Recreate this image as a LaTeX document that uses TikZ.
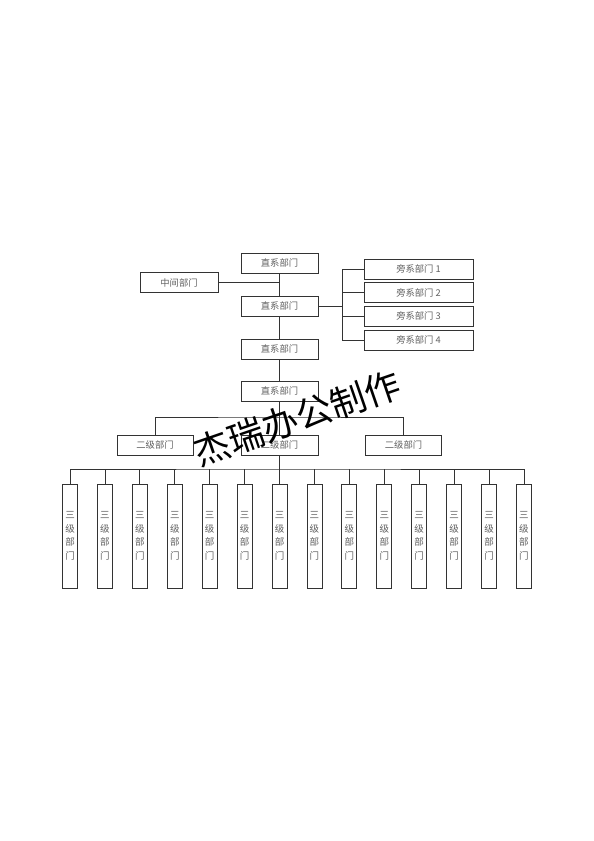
\documentclass[tikz,border=0pt]{standalone}
\usepackage{fontspec}
\newfontfamily\cjk{Noto Sans CJK SC}
\begin{document}
\begin{tikzpicture}[x=1pt,y=-1pt,
  box/.style={draw=black!80, line width=0.8pt, minimum width=77pt, minimum height=20pt, inner sep=0pt,
    font=\cjk\fontsize{9.3}{10}\selectfont, text=black!62},
  sidebox/.style={box, minimum width=109pt},
  secbox/.style={box, minimum width=76pt},
  thirdbox/.style={draw=black!80, line width=0.8pt, minimum width=15pt, minimum height=104pt, inner sep=0pt,
    align=center, font=\cjk\fontsize{9.5}{13.5}\selectfont, text=black!62},
  link/.style={draw=black!80, line width=0.8pt},
  wmark/.style={font=\cjk\fontsize{36}{40}\selectfont, text=black, rotate=19}]
\useasboundingbox (0,0) rectangle (594,841);
\fill[white] (0,0) rectangle (594,841);
% main column
\node[box] (d1) at (279.5,263) {直系部门};
\node[box, minimum width=78pt] (m) at (179,282.5) {中间部门};
\node[box] (d2) at (279.5,306) {直系部门};
\node[box] (d3) at (279.5,349) {直系部门};
\node[box] (d4) at (279.5,391) {直系部门};
% side boxes
\node[sidebox] (p1) at (418.5,269) {旁系部门 1};
\node[sidebox] (p2) at (418.5,292.5) {旁系部门 2};
\node[sidebox] (p3) at (418.5,316) {旁系部门 3};
\node[sidebox] (p4) at (418.5,340) {旁系部门 4};
% second level
\node[secbox] (s1) at (155,445) {二级部门};
\node[box] (s2) at (279.5,445) {二级部门};
\node[secbox] (s3) at (403.5,445) {二级部门};
% third level
\foreach \i in {0,...,13} {
  \node[thirdbox] (t\i) at (70+34.92*\i,536) {三\\级\\部\\门};
}
% connectors
\draw[link] (d1.south) -- (d2.north);
\draw[link] (m.east) -- (m.east -| d1.south);
\draw[link] (d2.south) -- (d3.north);
\draw[link] (d3.south) -- (d4.north);
\draw[link] (d4.south) -- (s2.north);
\coordinate (br) at (342,306);
\draw[link] (d2.east) -- (br);
\draw[link] (p1.west) -| (br);
\draw[link] (p4.west) -| (br);
\draw[link] (p2.west) -- (p2.west -| br);
\draw[link] (p3.west) -- (p3.west -| br);
\coordinate (bus2) at (279.5,417);
\draw[link] (s1.north) |- (bus2) -| (s3.north);
\coordinate (bus3) at (279.5,469);
\draw[link] (s2.south) -- (bus3);
\draw[link] (t0.north) |- (bus3) -| (t13.north);
\foreach \i in {1,...,12} {
  \draw[link] (t\i.north) -- (t\i.north |- bus3);
}
% watermark
\node[wmark] (wm) at (297,418) {杰瑞办公制作};
\end{tikzpicture}
\end{document}
